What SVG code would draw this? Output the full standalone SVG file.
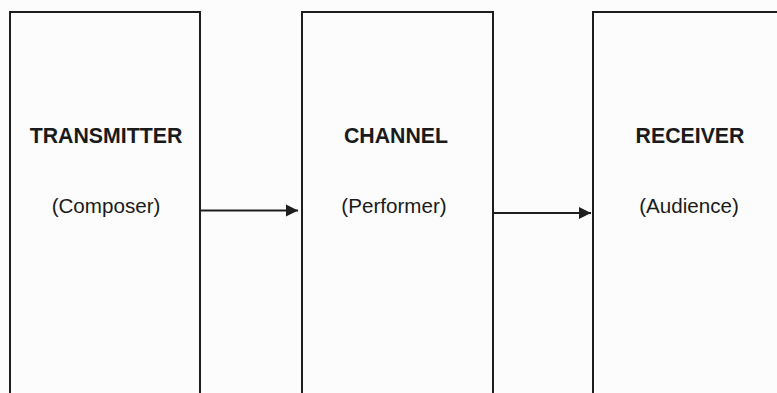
<svg xmlns="http://www.w3.org/2000/svg" width="777" height="393" viewBox="0 0 777 393">
<style>
.box{fill:none;stroke:#1e1e1e;stroke-width:2}
.title{font-family:"Liberation Sans",Arial,sans-serif;font-weight:bold;font-size:21.3px;fill:#1a1a1a;text-anchor:middle}
.sub{font-family:"Liberation Sans",Arial,sans-serif;font-size:20.6px;fill:#1a1a1a;text-anchor:middle}
.conn{stroke:#1e1e1e;stroke-width:2;fill:none;marker-end:url(#ah)}
</style>
<defs>
<marker id="ah" markerWidth="14" markerHeight="14" refX="12" refY="6.5" orient="auto" markerUnits="userSpaceOnUse">
<path d="M0,0.5 L12,6.5 L0,12.5 Z" fill="#1e1e1e"/>
</marker>
</defs>
<rect width="777" height="393" fill="#fcfcfc"/>
<g id="transmitter">
<path class="box" d="M10,400 V12 H200 V400"/>
<text class="title" x="106" y="143">TRANSMITTER</text>
<text class="sub" x="106" y="213">(Composer)</text>
</g>
<g id="channel">
<path class="box" d="M302,400 V12 H493 V400"/>
<text class="title" x="396" y="143">CHANNEL</text>
<text class="sub" x="394" y="213">(Performer)</text>
</g>
<g id="receiver">
<path class="box" d="M593,400 V12 H790"/>
<text class="title" x="690" y="143">RECEIVER</text>
<text class="sub" x="689" y="213">(Audience)</text>
</g>
<g id="connectors">
<line class="conn" x1="200" y1="210.5" x2="298" y2="210.5"/>
<line class="conn" x1="493" y1="213" x2="591" y2="213"/>
</g>
</svg>
